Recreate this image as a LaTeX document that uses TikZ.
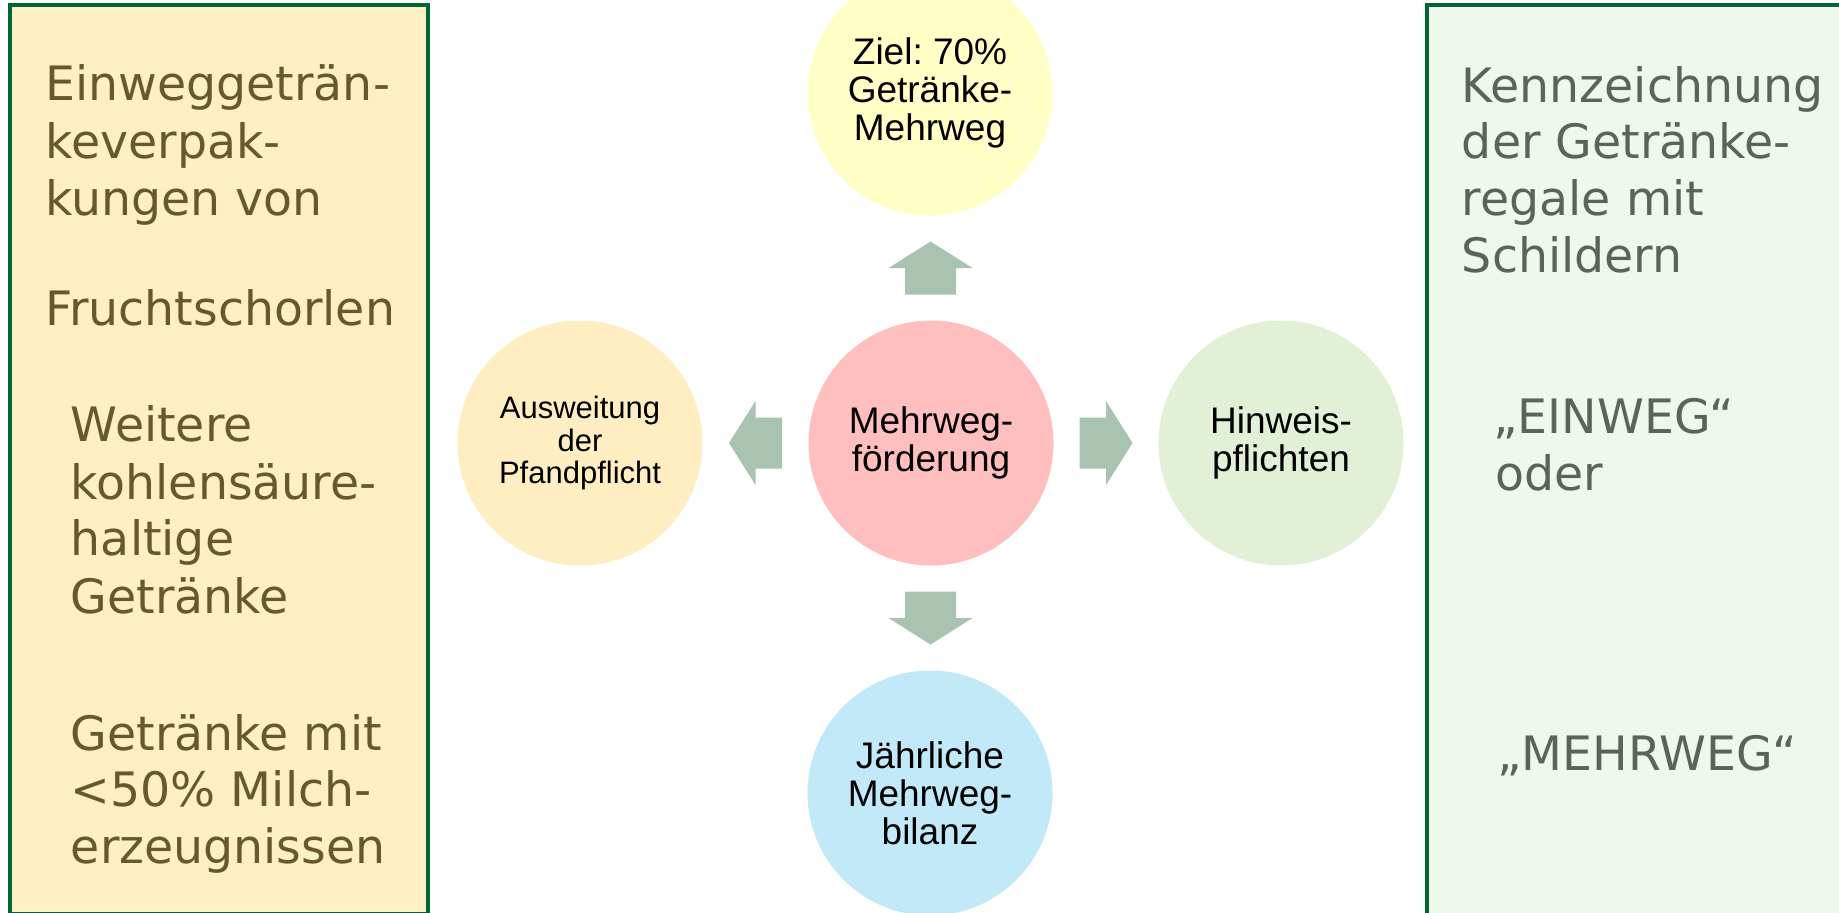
\documentclass[tikz,border=0pt]{standalone}
\usepackage{fontspec}
\usetikzlibrary{calc}
\frenchspacing
\newfontfamily\arialf{Liberation Sans}
\newfontfamily\verdf{DejaVu Sans}
\definecolor{topfill}{HTML}{FFFFC6}
\definecolor{midfill}{HTML}{FFBFBF}
\definecolor{leftfill}{HTML}{FFEEC2}
\definecolor{rightfill}{HTML}{E2F0D6}
\definecolor{botfill}{HTML}{C2E9F8}
\definecolor{arrowfill}{HTML}{A9C3B1}
\definecolor{lboxfill}{HTML}{FFEFC4}
\definecolor{rboxfill}{HTML}{EFF8EC}
\definecolor{boxline}{HTML}{006633}
\definecolor{ltext}{HTML}{67592D}
\definecolor{rtext}{HTML}{5B6459}
\tikzset{
  bubble/.style={circle, minimum size=122.5pt, inner sep=0pt, align=center,
    font=\arialf\fontsize{18.5}{19}\selectfont, text=black},
  panel/.style={rectangle, draw=boxline, line width=2pt, inner sep=0pt},
  ltxt/.style={anchor=base west, inner sep=0pt, text=ltext, font=\verdf\fontsize{23.7}{28}\selectfont},
  rtxt/.style={anchor=base west, inner sep=0pt, text=rtext, font=\verdf\fontsize{23.7}{28}\selectfont},
  blockarrow/.pic={\fill[arrowfill] (-26.5,-25.5) -- (0,-25.5) -- (0,-42) -- (26.5,0) -- (0,42) -- (0,25.5) -- (-26.5,25.5) -- cycle;}
}
\begin{document}
\begin{tikzpicture}[x=0.5pt,y=-0.5pt]
\useasboundingbox (0,0) rectangle (1839,912);
\clip (0,0) rectangle (1839,912);
\fill[white] (0,0) rectangle (1839,912);
% side panels
\node[panel, fill=lboxfill, minimum width=209.25pt, minimum height=454.5pt] (lb) at (218.75,459.5) {};
\node[panel, fill=rboxfill, minimum width=209pt, minimum height=456pt] (rb) at (1636,461) {};
% circles
\node[bubble, fill=midfill] (c) at (931,443) {Mehrweg-\\förderung};
\node[bubble, fill=topfill] (t) at (930,93) {Ziel: 70\%\\Getränke-\\Mehrweg};
\node[bubble, fill=botfill] (b) at (930,793) {Jährliche\\Mehrweg-\\bilanz};
\node[bubble, fill=leftfill, font=\arialf\fontsize{15.5}{16.3}\selectfont] (l) at (580,443) {Ausweitung\\der\\Pfandpflicht};
\node[bubble, fill=rightfill] (r) at (1281,443) {Hinweis-\\pflichten};
% block arrows
\pic[rotate=90] at ($(c)!0.5!(t)$) {blockarrow};
\pic[rotate=-90] at ($(c)!0.5!(b)$) {blockarrow};
\pic[rotate=180] at ($(c)!0.5!(l)$) {blockarrow};
\pic at ($(c)!0.5!(r)$) {blockarrow};
% left panel text
\node[ltxt] (l1) at (45,100.7) {Einweggeträn-};
\node[ltxt] (l2) at (45,158) {keverpak-};
\node[ltxt] (l3) at (45,215) {kungen von};
\node[ltxt] (l4) at (45,325) {Fruchtschorlen};
\node[ltxt] (l5) at (70.5,441.7) {Weitere};
\node[ltxt] (l6) at (70.5,499) {kohlensäure-};
\node[ltxt] (l7) at (70.5,555.7) {haltige};
\node[ltxt] (l8) at (70.5,613) {Getränke};
\node[ltxt] (l9) at (70.5,750) {Getränke mit};
\node[ltxt] (l10) at (70.5,806.7) {<50\% Milch-};
\node[ltxt] (l11) at (70.5,863.3) {erzeugnissen};
% right panel text
\node[rtxt] (r1) at (1461.5,102.3) {Kennzeichnung};
\node[rtxt] (r2) at (1461.5,158.3) {der Getränke-};
\node[rtxt] (r3) at (1461.5,215) {regale mit};
\node[rtxt] (r4) at (1461.5,272.7) {Schildern};
\node[rtxt] (r5) at (1493,433.3) {„EINWEG“};
\node[rtxt] (r6) at (1495,490) {oder};
\node[rtxt] (r7) at (1497,770) {„MEHRWEG“};
\end{tikzpicture}
\end{document}
